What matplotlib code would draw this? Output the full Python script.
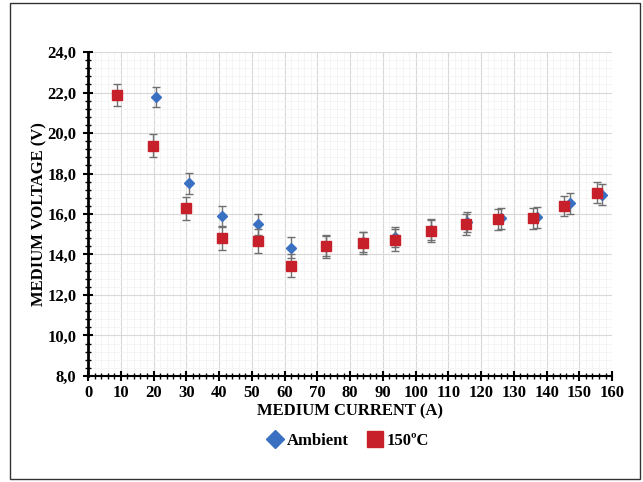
import matplotlib.pyplot as plt
from matplotlib.patches import Rectangle
from matplotlib.lines import Line2D
from matplotlib.ticker import MultipleLocator, FuncFormatter

# data
amb_x = [20.8, 30.7, 40.8, 51.8, 61.9, 72.7, 83.8, 93.8, 104.7, 115.6, 126.1, 137.1, 147.0, 157.0]
amb_y = [21.78, 17.52, 15.92, 15.49, 14.33, 14.42, 14.62, 14.85, 15.2, 15.62, 15.79, 15.84, 16.53, 16.96]
amb_err = [0.51, 0.53, 0.50, 0.51, 0.52, 0.5, 0.5, 0.5, 0.5, 0.5, 0.52, 0.52, 0.52, 0.53]

hot_x = [8.75, 19.7, 29.9, 40.8, 51.8, 61.9, 72.7, 83.8, 93.8, 104.7, 115.3, 125.0, 135.9, 145.2, 155.5]
hot_y = [21.88, 19.37, 16.28, 14.8, 14.67, 13.45, 14.4, 14.58, 14.72, 15.18, 15.5, 15.74, 15.79, 16.41, 17.05]
hot_err = [0.53, 0.57, 0.57, 0.58, 0.58, 0.58, 0.55, 0.55, 0.55, 0.55, 0.52, 0.52, 0.52, 0.5, 0.51]

blue = '#3a70c2'
red = '#c8202a'

plt.rcParams['font.family'] = ['Liberation Serif', 'DejaVu Serif']
plt.rcParams['font.weight'] = 'bold'

fig = plt.figure(figsize=(6.43, 4.82), dpi=100)
ax = fig.add_axes([0.137, 0.22, 0.815, 0.672])

ax.errorbar(amb_x, amb_y, yerr=amb_err, fmt='D', color=blue, markersize=5.5,
            ecolor='#707070', elinewidth=1, capsize=3, capthick=1, zorder=3)
ax.errorbar(hot_x, hot_y, yerr=hot_err, fmt='s', color=red, markersize=7.5,
            ecolor='#707070', elinewidth=1, capsize=3, capthick=1, zorder=4)

ax.set_xlim(0, 160)
ax.set_ylim(8, 24)
ax.xaxis.set_major_locator(MultipleLocator(10))
ax.xaxis.set_minor_locator(MultipleLocator(2))
ax.yaxis.set_major_locator(MultipleLocator(2))
ax.yaxis.set_minor_locator(MultipleLocator(0.4))
ax.yaxis.set_major_formatter(FuncFormatter(lambda v, p: f'{v:.1f}'.replace('.', ',')))

ax.grid(which='major', color='#d8d8d8', lw=0.8)
ax.grid(which='minor', color='#f2f2f2', lw=0.5)
ax.set_axisbelow(True)

ax.spines['top'].set_visible(False)
ax.spines['right'].set_visible(False)
ax.spines['left'].set_linewidth(2)
ax.spines['bottom'].set_linewidth(1.5)
ax.tick_params(which='major', direction='inout', length=7, width=1.5, labelsize=12)
ax.tick_params(axis='x', which='major', pad=3)
ax.tick_params(axis='y', which='major', pad=5)
ax.tick_params(which='minor', direction='inout', length=4, width=1)

ax.set_xlabel('MEDIUM CURRENT (A)', fontsize=12, fontweight='bold', labelpad=2)
ax.set_ylabel('MEDIUM VOLTAGE (V)', fontsize=12, fontweight='bold', labelpad=0)

handles = [Line2D([], [], ls='none', marker='D', color=blue, markersize=9),
           Line2D([], [], ls='none', marker='s', color=red, markersize=11)]
fig.legend(handles, ['Ambient', '150ºC'], loc='center', bbox_to_anchor=(0.54, 0.085),
           ncol=2, frameon=False, handletextpad=0.1, columnspacing=1.0, handlelength=1.2,
           prop={'weight': 'bold', 'size': 12})

fig.patches.append(Rectangle((10 / 643, 3 / 482), 630 / 643, 476 / 482,
                             transform=fig.transFigure, fill=False, ec='#333333', lw=1))

plt.savefig('out.png', dpi=100)
